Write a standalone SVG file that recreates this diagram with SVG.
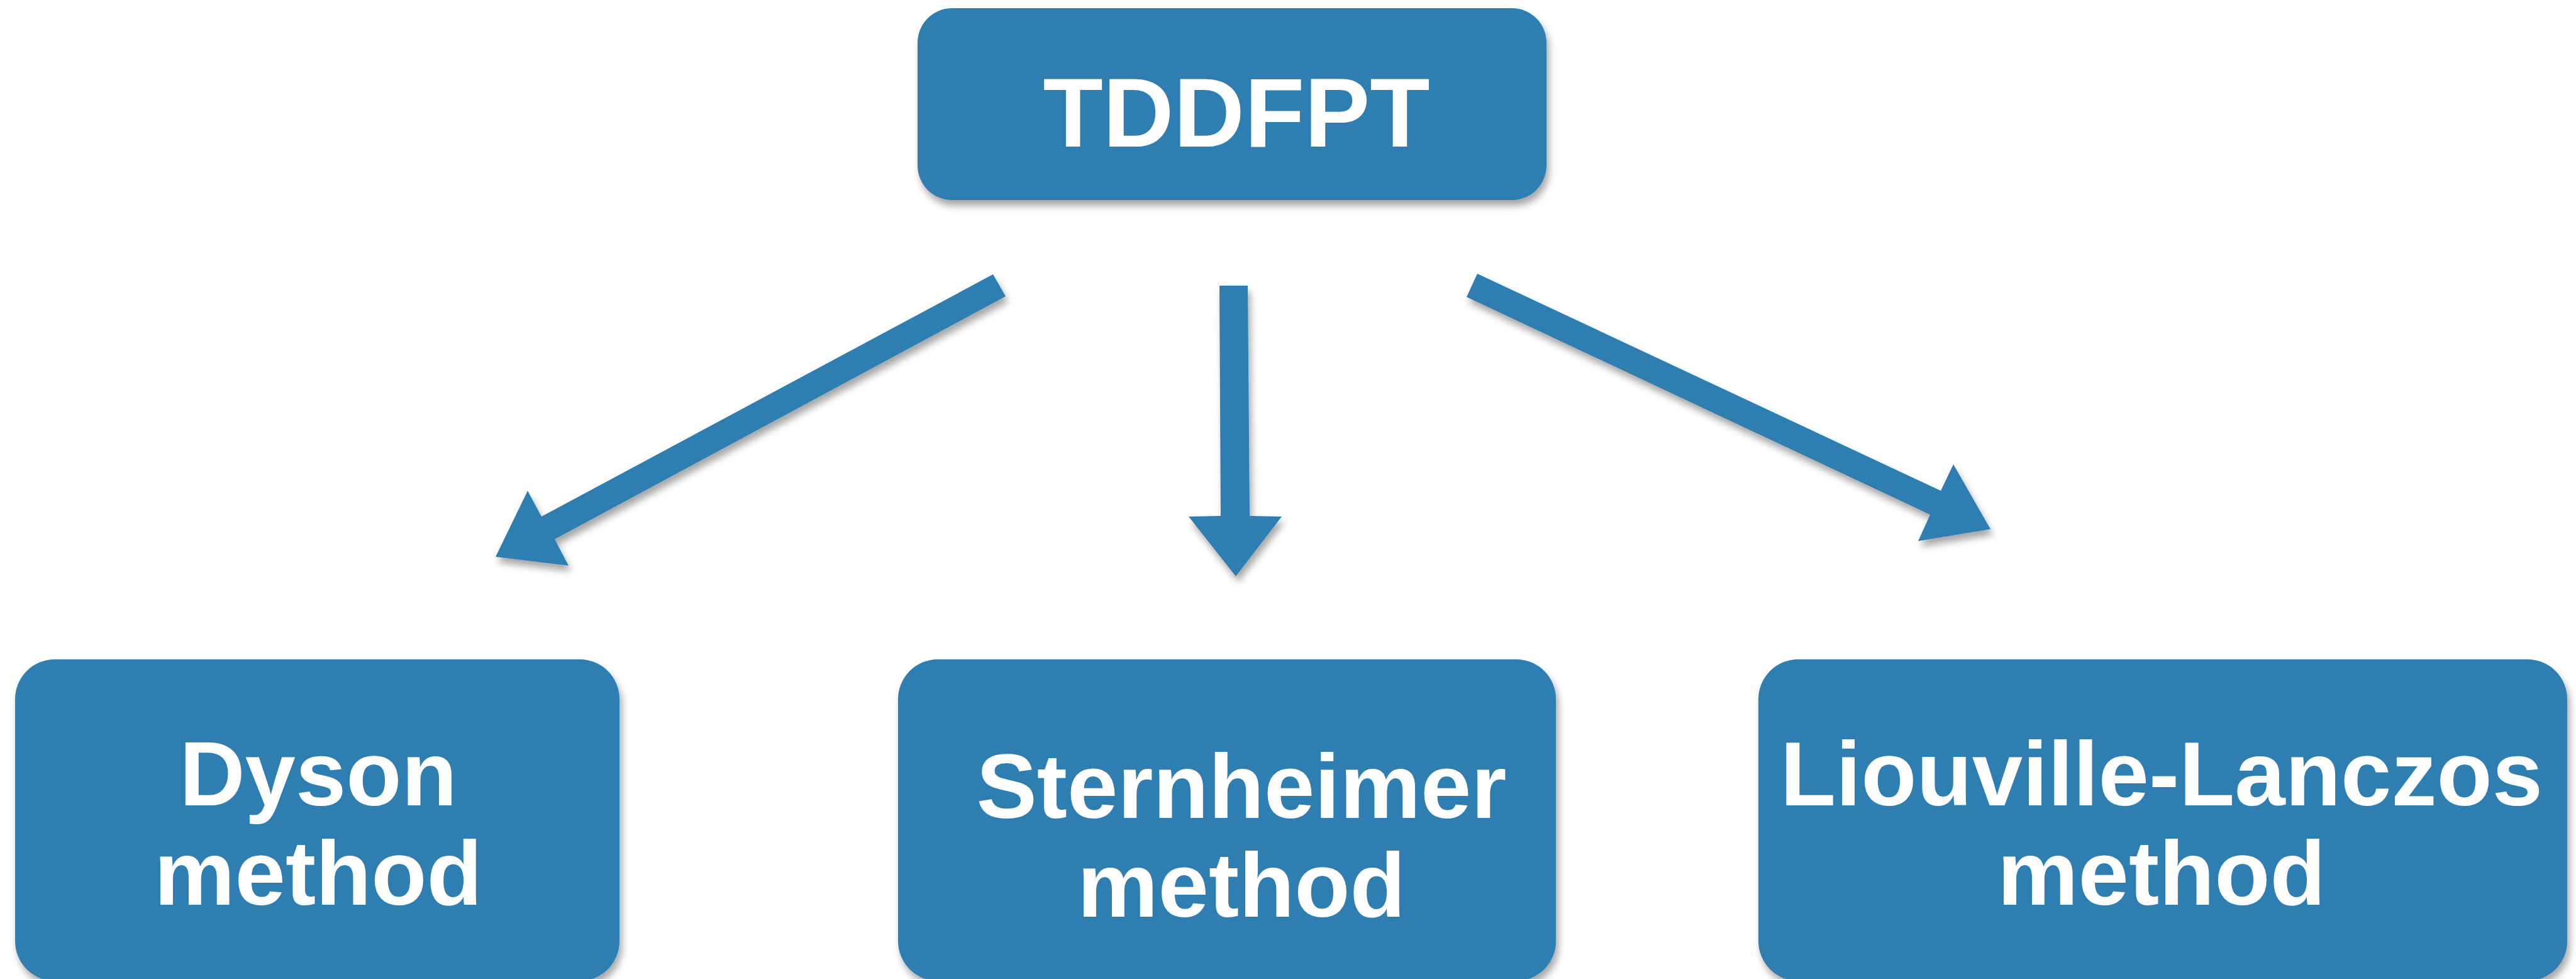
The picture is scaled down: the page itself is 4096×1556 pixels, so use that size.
<svg xmlns="http://www.w3.org/2000/svg" width="4096" height="1556" viewBox="0 0 4096 1556">
  <defs>
    <filter id="sh" x="-10%" y="-10%" width="120%" height="130%">
      <feDropShadow dx="4" dy="9" stdDeviation="6" flood-color="#000" flood-opacity="0.35"/>
    </filter>
  </defs>
  <style>
    .box { fill: #2E7EB1; filter: url(#sh); }
    .arrow { fill: #2E7EB1; filter: url(#sh); }
    .lbl { fill: #FFFFFF; font-family: "Liberation Sans", Arial, sans-serif; font-weight: bold; text-anchor: middle; }
    .big { font-size: 156px; }
    .med { font-size: 144.5px; }
  </style>
  <rect width="4096" height="1556" fill="#FFFFFF"/>
  <g id="connectors">
    <polygon class="arrow" points="1579,436 1599,471 882,857 904,899 788,885 839,780 861,821"/>
    <polygon class="arrow" points="1939,454 1984,454 1987,820 2038,821 1965,916 1890,821 1941,820"/>
    <polygon class="arrow" points="2349,435 3086,780 3106,738 3165,841 3050,860 3069,818 2332,472"/>
  </g>
  <g id="node-tddfpt">
    <rect class="box" x="1459" y="13" width="1000" height="305" rx="55" ry="55"/>
    <text class="lbl big" x="1966" y="233">TDDFPT</text>
  </g>
  <g id="node-dyson">
    <rect class="box" x="24" y="1048" width="961" height="511" rx="63" ry="63"/>
    <text class="lbl med" x="506" y="1280">Dyson</text>
    <text class="lbl med" x="506" y="1438">method</text>
  </g>
  <g id="node-sternheimer">
    <rect class="box" x="1428" y="1048" width="1046" height="511" rx="63" ry="63"/>
    <text class="lbl med" x="1974" y="1300">Sternheimer</text>
    <text class="lbl med" x="1974" y="1457">method</text>
  </g>
  <g id="node-liouville">
    <rect class="box" x="2796" y="1048" width="1286" height="511" rx="63" ry="63"/>
    <text class="lbl med" x="3437" y="1280">Liouville-Lanczos</text>
    <text class="lbl med" x="3437" y="1438">method</text>
  </g>
</svg>
